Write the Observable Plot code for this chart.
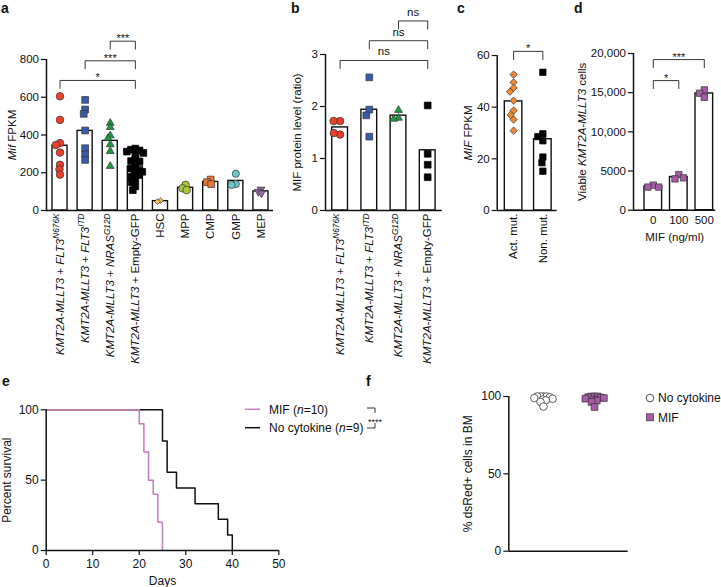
<!DOCTYPE html>
<html><head><meta charset="utf-8">
<script src="https://cdn.jsdelivr.net/npm/d3@7"></script>
<script src="https://cdn.jsdelivr.net/npm/@observablehq/plot@0.6"></script>
<style>
html,body{margin:0;padding:0;background:#fff;}
#fig{position:relative;width:721px;height:587px;overflow:hidden;background:#fff;}
#fig svg{position:absolute;left:0;top:0;overflow:visible;background:transparent;max-width:none;}
</style></head>
<body><div id="fig"></div>
<script>
// ---------------- DATA ----------------
// Panel a: Mif FPKM
const aCategories = ["FLT3 N676K","FLT3 ITD","NRAS G12D","Empty-GFP","HSC","MPP","CMP","GMP","MEP"];
const aTickLabels = [
  "<i>KMT2A-MLLT3</i> + <i>FLT3</i><sup><i>N676K</i></sup>",
  "<i>KMT2A-MLLT3</i> + <i>FLT3</i><sup><i>ITD</i></sup>",
  "<i>KMT2A-MLLT3</i> + <i>NRAS</i><sup><i>G12D</i></sup>",
  "<i>KMT2A-MLLT3</i> + Empty-GFP",
  "HSC","MPP","CMP","GMP","MEP"];
const aValues = [
  [605,480,357,347,307,242,218,190],
  [586,535,512,424,330,297,268],
  [463,441,397,383,350,314,235],
  [328,322,318,312,305,298,270,262,260,232,222,212,205,196,188,178,165,150,128,108],
  [52,47],
  [136,118,108],
  [164,150,140],
  [195,140,135],
  [112,100,92]
];
const aYTicks = [0,200,400,600,800];
const aComparisons = [{from:0,to:3,label:"*"},{from:1,to:3,label:"***"},{from:2,to:3,label:"***"}];

// Panel b: MIF protein level
const bTickLabels = aTickLabels.slice(0,4);
const bValues = [
  [1.72,1.72,1.46,1.49],
  [2.56,1.94,1.83,1.42],
  [1.93,1.78,1.76],
  [2.02,1.09,0.88,0.64]
];
const bYTicks = [0,1,2,3];
const bComparisons = [{from:0,to:3,label:"ns"},{from:1,to:3,label:"ns"},{from:2,to:3,label:"ns"}];

// Panel c: MIF FPKM
const cTickLabels = ["Act. mut.","Non. mut."];
const cValues = [
  [52.6,49.6,47.5,46,42.5,38.7,37,35.2,30.9],
  [53.5,29.7,28.6,27,20.7,18.5,15.2]
];
const cYTicks = [0,20,40,60];
const cComparisons = [{from:0,to:1,label:"*"}];

// Panel d: viable cells vs MIF dose
const dTickLabels = ["0","100","500"];
const dValues = [
  [3200,2950,2950],
  [4550,4000,4130],
  [15357,14930,14413]
];
const dYTicks = [0,5000,10000,15000,20000];
const dComparisons = [{from:0,to:1,label:"*"},{from:0,to:2,label:"***"}];

// Panel e: survival
const eMifDays = [0,20,21,22,23,24,25];
const eMifSurvival = [100,90,70,50,40,20,0];
const eNoDays = [0,25,26,28,32,37,39,40];
const eNoSurvival = [100,77.8,55.6,44.4,33.3,22.2,11.1,0];
const eXTicks = [0,10,20,30,40,50];
const eYTicks = [0,50,100];

// Panel f: % dsRed+ cells in BM
const fSeries = ["No cytokine","MIF"];
const fValues = [
  [100,100,100,100,99.5,99,98.5,98,97.5,96.5,93.5],
  [100,100,100,99.6,99.3,99,98.6,98,97.4,96.5,93.2]
];
const fYTicks = [0,50,100];

// ---------------- STYLE / LAYOUT ----------------
const W = 721, H = 587;
const FONT = '"Liberation Sans", Arial, Helvetica, sans-serif';
const triangleDown = {
  draw(ctx, size) {
    const y = -Math.sqrt(size / (Math.sqrt(3) * 3));
    ctx.moveTo(0, -y * 2);
    ctx.lineTo(-Math.sqrt(3) * y, y);
    ctx.lineTo(Math.sqrt(3) * y, y);
    ctx.closePath();
  }
};
const LAYOUT = {
  a: {x:[46,273], xd:[-0.538,8.5], y:[210,59], yd:[0,800], bw:0.6, labelOffset:38.5, font:11.5, overlap:0.6, br:{base:689, step:104, leg:42}},
  b: {x:[325,441.8], xd:[-0.5,3.5], y:[210,54], yd:[0,3], bw:0.54, labelOffset:33, font:11.5, overlap:0.85, br:{base:2.885, step:0.38, leg:0.155}},
  c: {x:[496.7,556.7], xd:[-0.56,1.49], y:[210,55], yd:[0,60], bw:0.6, labelOffset:33.7, font:11.5, overlap:0.8, br:{base:61.6, step:0, leg:3.2}},
  d: {x:[633,715.3], xd:[-0.776,2.45], y:[209.7,53], yd:[0,20000], bw:0.69, labelOffset:56, font:11.5, overlap:0.8, br:{base:16543, step:2680, leg:1020}},
  e: {x:[45.7,278.3], xd:[0,50], y:[550,409.3], yd:[0,100], labelOffset:43.3, font:12},
  f: {x:[508.3,627.7], xd:[-0.68,1.66], y:[550.7,396], yd:[0,100], labelOffset:45.3, font:12, overlap:0.42}
};
const aStyle = {
  colors: ["#e8402d","#3a5ba9","#1c9b41","#000000","#f6c15a","#a8c745","#ec7236","#6fc6cd","#9c6aa8"],
  symbols: ["circle","square","triangle","square","diamond2","circle","square","circle",triangleDown],
  radii: [3.8,3.8,2.9,3.8,2.6,3.8,3.8,3.6,2.9],
  strokes: ["#333","#333","#333","#000","#333","#333","#333","#333","#333"]
};
const bStyle = {colors: aStyle.colors.slice(0,4), symbols: aStyle.symbols.slice(0,4), radii: aStyle.radii.slice(0,4), strokes: aStyle.strokes.slice(0,4)};
const cStyle = {colors: ["#f08a2e","#000"], symbols: ["diamond2","square"], radii: [3.3,3.6], strokes: ["#333","#000"]};
const dStyle = {colors: ["#a65ca6","#a65ca6","#a65ca6"], symbols: ["square","square","square"], radii: [3.6,3.6,3.6], strokes: ["#333","#333","#333"]};
const fStyle = {colors: ["#ffffff","#a65ca6"], symbols: ["circle","square"], radii: [3.8,3.8], strokes: ["#222","#333"]};
const MIF_LINE = "#c47cbc";

// ---------------- HELPERS ----------------
function swarm(vals, r, ky, f) {
  const d = 2 * r * f, placed = [];
  return vals.map(v => {
    const y = v * ky, cands = [0];
    for (const p of placed) {
      const dy = Math.abs(p.y - y);
      if (dy < d) { const w = Math.sqrt(d * d - dy * dy); cands.push(p.x - w, p.x + w); }
    }
    cands.sort((a, b) => Math.abs(a) - Math.abs(b) || a - b);
    const best = cands.find(c => placed.every(p => (p.x - c) ** 2 + (p.y - y) ** 2 >= d * d - 1e-6));
    placed.push({x: best, y});
    return best;
  });
}

function panelSvg(cfg, marks) {
  return Plot.plot({
    width: W, height: H,
    marginLeft: cfg.x[0], marginRight: W - cfg.x[1],
    marginTop: cfg.y[1], marginBottom: H - cfg.y[0],
    x: {domain: cfg.xd},
    y: {domain: cfg.yd},
    style: {fontFamily: FONT, fontSize: cfg.font + "px", color: "#111", background: "transparent", overflow: "visible"},
    marks
  });
}

function catPanel(cfg, spec) {
  const ky = (cfg.y[0] - cfg.y[1]) / (cfg.yd[1] - cfg.yd[0]);
  const kx = (cfg.x[1] - cfg.x[0]) / (cfg.xd[1] - cfg.xd[0]);
  const marks = [];
  if (spec.bars) {
    const bars = spec.values.map((vs, i) => ({i, mean: d3.mean(vs)}));
    marks.push(Plot.rectY(bars, {x1: d => d.i - cfg.bw / 2, x2: d => d.i + cfg.bw / 2, y1: 0, y2: "mean",
      fill: "white", stroke: "#111", strokeWidth: 1.4}));
  }
  spec.values.forEach((vs, g) => {
    const r = spec.style.radii[g];
    const off = swarm(vs, r, ky, cfg.overlap);
    const pts = vs.map((v, j) => ({cx: g + off[j] / kx, v}));
    marks.push(Plot.dot(pts, {x: "cx", y: "v", r, symbol: spec.style.symbols[g],
      fill: spec.style.colors[g], stroke: spec.style.strokes[g], strokeWidth: 0.7}));
  });
  marks.push(Plot.ruleY([cfg.yd[0]], {stroke: "#111", strokeWidth: 1.5}));
  marks.push(Plot.ruleX([cfg.xd[0]], {y1: cfg.yd[0], y2: cfg.yd[1], stroke: "#111", strokeWidth: 1.5}));
  marks.push(Plot.axisY({ticks: spec.yTicks, tickFormat: spec.yFormat ?? (v => String(v)), tickSize: 5, tickPadding: 2.5,
    label: spec.yLabel, labelAnchor: "center", labelOffset: cfg.labelOffset, labelArrow: "none", strokeWidth: 1.2}));
  if (spec.xLabels) {
    marks.push(Plot.axisX({ticks: d3.range(spec.xLabels.length), tickFormat: i => spec.xLabels[i],
      tickRotate: spec.xRotate ? -90 : 0, tickSize: 0, tickPadding: spec.xRotate ? 3 : 5.5,
      label: spec.xTitle ?? null, labelAnchor: "center", labelOffset: spec.xTitleOffset, labelArrow: "none"}));
  } else {
    marks.push(Plot.axisX({ticks: [], label: null}));
  }
  if (spec.comparisons) {
    const br = cfg.br, top = k => br.base + k * br.step;
    const segs = spec.comparisons.flatMap((c, k) => [
      {k, x: c.from, y: top(k) - br.leg}, {k, x: c.from, y: top(k)},
      {k, x: c.to, y: top(k)}, {k, x: c.to, y: top(k) - br.leg}]);
    marks.push(Plot.line(segs, {x: "x", y: "y", z: "k", stroke: "#222", strokeWidth: 0.9}));
    const lab = spec.comparisons.map((c, k) => ({x: (c.from + c.to) / 2, y: top(k), t: c.label}));
    marks.push(Plot.text(lab.filter(d => d.t !== "ns"), {x: "x", y: "y", text: "t", lineAnchor: "bottom", dy: 1, fontSize: 11}));
    marks.push(Plot.text(lab.filter(d => d.t === "ns"), {x: "x", y: "y", text: "t", lineAnchor: "bottom", dy: -5, fontSize: 11.5}));
  }
  return panelSvg(cfg, marks);
}

function richify(root) {
  root.querySelectorAll("text").forEach(t => {
    const s = t.textContent;
    if (!/<\/?(i|sup)>/.test(s)) return;
    const fs = parseFloat(getComputedStyle(t).fontSize) || 11;
    while (t.firstChild) t.removeChild(t.firstChild);
    let it = false, sup = false, raised = false;
    for (const part of s.split(/(<\/?i>|<\/?sup>)/)) {
      if (part === "<i>") { it = true; continue; }
      if (part === "</i>") { it = false; continue; }
      if (part === "<sup>") { sup = true; continue; }
      if (part === "</sup>") { sup = false; continue; }
      if (!part) continue;
      const ts = document.createElementNS("http://www.w3.org/2000/svg", "tspan");
      ts.textContent = part;
      if (it) ts.setAttribute("font-style", "italic");
      if (sup) {
        ts.setAttribute("font-size", (fs * 0.72) + "px");
        if (!raised) { ts.setAttribute("dy", (-fs * 0.38) + "px"); raised = true; }
      } else if (raised) { ts.setAttribute("dy", (fs * 0.38) + "px"); raised = false; }
      t.appendChild(ts);
    }
  });
}

// ---------------- BUILD ----------------
const fig = document.getElementById("fig");

fig.appendChild(catPanel(LAYOUT.a, {values: aValues, style: aStyle, bars: true, yTicks: aYTicks,
  yLabel: "<i>Mif</i> FPKM", xLabels: aTickLabels, xRotate: true, comparisons: aComparisons}));

fig.appendChild(catPanel(LAYOUT.b, {values: bValues, style: bStyle, bars: true, yTicks: bYTicks,
  yLabel: "MIF protein level (ratio)", xLabels: bTickLabels, xRotate: true, comparisons: bComparisons}));

fig.appendChild(catPanel(LAYOUT.c, {values: cValues, style: cStyle, bars: true, yTicks: cYTicks,
  yLabel: "<i>MIF</i> FPKM", xLabels: cTickLabels, xRotate: true, comparisons: cComparisons}));

fig.appendChild(catPanel(LAYOUT.d, {values: dValues, style: dStyle, bars: true, yTicks: dYTicks,
  yFormat: v => v >= 10000 ? d3.format(",")(v) : String(v),
  yLabel: "Viable <i>KMT2A-MLLT3</i> cells", xLabels: dTickLabels, xRotate: false,
  xTitle: "MIF (ng/ml)", xTitleOffset: 30.5, comparisons: dComparisons}));

fig.appendChild(catPanel(LAYOUT.f, {values: fValues, style: fStyle, bars: false, yTicks: fYTicks,
  yLabel: "% dsRed+ cells in BM"}));

// Panel e: survival curves
{
  const cfg = LAYOUT.e;
  const noData = eNoDays.map((d, i) => ({d, s: eNoSurvival[i]}));
  const mifData = eMifDays.map((d, i) => ({d, s: eMifSurvival[i]}));
  fig.appendChild(panelSvg(cfg, [
    Plot.line(noData, {x: "d", y: "s", curve: "step-after", stroke: "#111", strokeWidth: 1.5}),
    Plot.line(mifData, {x: "d", y: "s", curve: "step-after", stroke: MIF_LINE, strokeWidth: 1.5}),
    Plot.ruleY([0], {stroke: "#111", strokeWidth: 1.5}),
    Plot.ruleX([0], {y1: 0, y2: 100, stroke: "#111", strokeWidth: 1.5}),
    Plot.axisY({ticks: eYTicks, tickFormat: v => String(v), tickSize: 5, tickPadding: 2.5, label: "Percent survival", labelAnchor: "center",
      labelOffset: cfg.labelOffset, labelArrow: "none", strokeWidth: 1.2}),
    Plot.axisX({ticks: eXTicks, tickFormat: v => String(v), tickSize: 5, tickPadding: 4, label: "Days", labelAnchor: "center",
      labelOffset: 34.8, labelArrow: "none", strokeWidth: 1.2})
  ]));
}

// Overlay: panel letters and legends
{
  const ov = d3.create("svg").attr("width", W).attr("height", H)
    .style("font-family", FONT).style("fill", "#111");
  const letters = [["a",1,12.5],["b",291,12.5],["c",457,12.5],["d",574,12.5],["e",2,386],["f",366,386]];
  ov.selectAll("text.letter").data(letters).join("text").attr("class","letter")
    .attr("x", d => d[1]).attr("y", d => d[2]).attr("font-size", 14).attr("font-weight", "bold").text(d => d[0]);

  // legend e
  const le = [{label: "MIF (<i>n</i>=10)", color: MIF_LINE, y: 409.3}, {label: "No cytokine (<i>n</i>=9)", color: "#111", y: 427.7}];
  le.forEach(d => {
    ov.append("line").attr("x1", 245).attr("x2", 260).attr("y1", d.y).attr("y2", d.y)
      .attr("stroke", d.color).attr("stroke-width", 1.5);
    ov.append("text").attr("x", 269).attr("y", d.y).attr("dy", "0.35em").attr("font-size", 12).text(d.label);
  });
  ov.append("path").attr("d", "M367,408H375V413M375,423V428H367").attr("fill", "none").attr("stroke", "#222").attr("stroke-width", 0.9);
  ov.append("text").attr("x", 375).attr("y", 424.5).attr("text-anchor", "middle").attr("font-size", 9).text("****");

  // legend f
  ov.append("circle").attr("cx", 650).attr("cy", 398).attr("r", 3.8).attr("fill", "#fff").attr("stroke", "#222").attr("stroke-width", 0.8);
  ov.append("text").attr("x", 658).attr("y", 398).attr("dy", "0.35em").attr("font-size", 12).text(fSeries[0]);
  ov.append("rect").attr("x", 646.5).attr("y", 413.8).attr("width", 7).attr("height", 7).attr("fill", fStyle.colors[1]).attr("stroke", "#333").attr("stroke-width", 0.7);
  ov.append("text").attr("x", 658).attr("y", 417.3).attr("dy", "0.35em").attr("font-size", 12).text(fSeries[1]);
  fig.appendChild(ov.node());
}

richify(fig);
</script></body></html>
